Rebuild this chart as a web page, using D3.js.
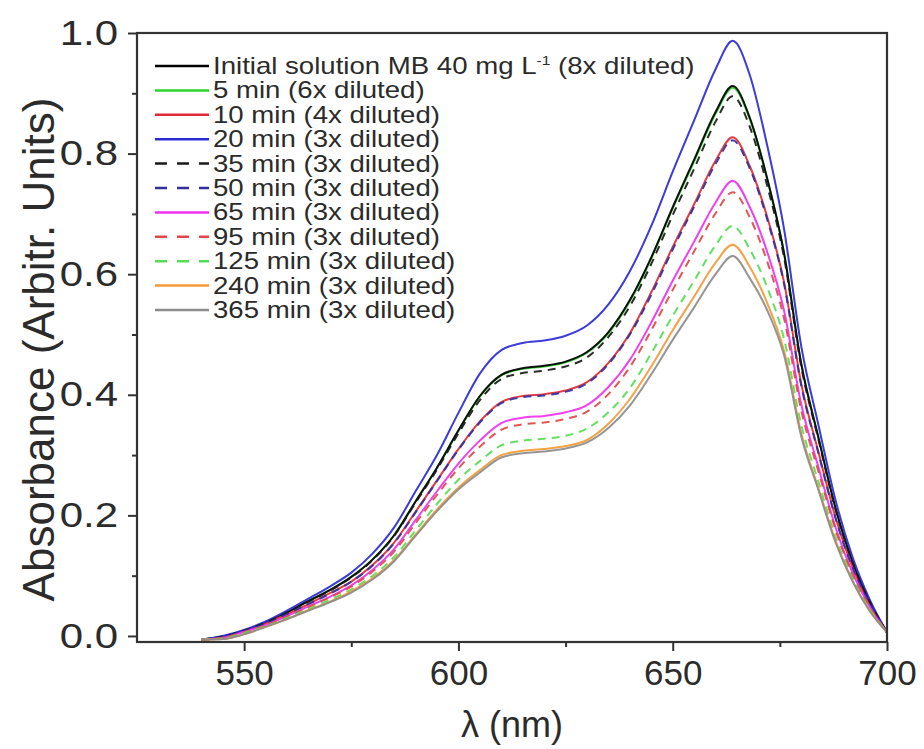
<!DOCTYPE html>
<html>
<head>
<meta charset="utf-8">
<script src="https://cdn.jsdelivr.net/npm/d3@7"></script>
<style>
  html, body { margin: 0; padding: 0; background: #fff; }
  svg { display: block; }
  text { font-family: "Liberation Sans", Arial, sans-serif; fill: #2b2b2b; }
</style>
</head>
<body>
<svg id="chart" width="924" height="749"></svg>
<script>
// ---- data ----
const wavelengths = [540,545,550,555,560,565,570,575,580,585,590,595,600,605,610,615,620,625,630,635,640,645,650,655,660,664,668,672,676,680,684,688,692,696,700];

const initial = [-0.006,-0.001,0.009,0.022,0.039,0.058,0.076,0.098,0.127,0.167,0.223,0.279,0.341,0.398,0.433,0.444,0.448,0.455,0.471,0.504,0.557,0.628,0.711,0.790,0.869,0.912,0.859,0.760,0.634,0.451,0.329,0.212,0.122,0.056,0.006];
const min5 = [-0.006,-0.001,0.009,0.022,0.039,0.058,0.076,0.098,0.127,0.167,0.223,0.279,0.340,0.397,0.432,0.443,0.447,0.454,0.470,0.502,0.555,0.626,0.709,0.787,0.866,0.909,0.857,0.759,0.634,0.451,0.329,0.212,0.122,0.056,0.006];
const min10 = [-0.006,-0.002,0.008,0.021,0.036,0.053,0.071,0.090,0.118,0.155,0.206,0.258,0.310,0.356,0.388,0.398,0.401,0.407,0.421,0.453,0.502,0.570,0.645,0.716,0.788,0.827,0.779,0.696,0.586,0.418,0.305,0.196,0.113,0.052,0.006];
const min20 = [-0.006,0.000,0.010,0.024,0.042,0.062,0.082,0.105,0.137,0.180,0.240,0.300,0.370,0.435,0.474,0.486,0.490,0.498,0.515,0.550,0.605,0.680,0.770,0.855,0.940,0.987,0.930,0.815,0.674,0.480,0.350,0.225,0.130,0.060,0.006];
const min35 = [-0.006,-0.001,0.009,0.022,0.039,0.057,0.075,0.097,0.126,0.166,0.221,0.276,0.336,0.391,0.426,0.436,0.440,0.447,0.462,0.496,0.547,0.617,0.698,0.775,0.853,0.895,0.844,0.748,0.627,0.446,0.326,0.209,0.121,0.056,0.006];
const min50 = [-0.006,-0.002,0.008,0.020,0.036,0.053,0.070,0.090,0.117,0.154,0.205,0.257,0.309,0.354,0.386,0.396,0.399,0.405,0.419,0.451,0.500,0.566,0.641,0.712,0.783,0.822,0.775,0.692,0.583,0.415,0.303,0.195,0.112,0.052,0.006];
const min65 = [-0.006,-0.003,0.007,0.018,0.033,0.049,0.065,0.084,0.110,0.144,0.192,0.240,0.286,0.324,0.353,0.362,0.365,0.371,0.383,0.413,0.458,0.520,0.589,0.654,0.719,0.755,0.711,0.638,0.539,0.384,0.280,0.180,0.104,0.048,0.006];
const min95 = [-0.006,-0.003,0.006,0.018,0.032,0.048,0.064,0.082,0.107,0.140,0.187,0.234,0.278,0.314,0.342,0.351,0.354,0.360,0.372,0.401,0.446,0.507,0.574,0.638,0.701,0.736,0.694,0.622,0.526,0.374,0.273,0.176,0.101,0.047,0.006];
const min125 = [-0.006,-0.004,0.005,0.016,0.030,0.045,0.060,0.077,0.100,0.131,0.175,0.219,0.259,0.290,0.316,0.324,0.327,0.332,0.344,0.371,0.411,0.469,0.531,0.589,0.648,0.680,0.641,0.579,0.492,0.350,0.256,0.164,0.095,0.044,0.006];
const min240 = [-0.006,-0.005,0.003,0.015,0.028,0.043,0.057,0.074,0.096,0.126,0.168,0.210,0.246,0.275,0.300,0.307,0.310,0.315,0.325,0.352,0.393,0.447,0.507,0.563,0.619,0.649,0.612,0.553,0.472,0.336,0.245,0.158,0.091,0.042,0.006];
const min365 = [-0.006,-0.005,0.003,0.015,0.028,0.042,0.056,0.072,0.094,0.124,0.166,0.207,0.243,0.271,0.296,0.303,0.306,0.311,0.321,0.345,0.382,0.434,0.491,0.545,0.600,0.630,0.593,0.541,0.465,0.331,0.242,0.155,0.090,0.041,0.006];

const seriesNames = [
  "Initial solution MB 40 mg L|-1|(8x diluted)",
  "5 min (6x diluted)",
  "10 min (4x diluted)",
  "20 min (3x diluted)",
  "35 min (3x diluted)",
  "50 min (3x diluted)",
  "65 min (3x diluted)",
  "95 min (3x diluted)",
  "125 min (3x diluted)",
  "240 min (3x diluted)",
  "365 min (3x diluted)"
];
const seriesValues = [initial, min5, min10, min20, min35, min50, min65, min95, min125, min240, min365];
const seriesColors = ["#000000","#2ed42e","#e02a35","#2a2ad8","#1a1a1a","#30309e","#ee30ee","#e04848","#55dd55","#f29a35","#8c8c8c"];
const seriesDashed = [false,false,false,false,true,true,false,true,true,false,false];

const xTicks = [550, 600, 650, 700];
const xMinorTicks = [575, 625, 675];
const yTicks = [0.0, 0.2, 0.4, 0.6, 0.8, 1.0];
const yMinorTicks = [0.1, 0.3, 0.5, 0.7, 0.9];

// ---- layout ----
const svg = d3.select("#chart");
const L = 137, R = 887, T = 33, B = 642;
const x = d3.scaleLinear().domain([525, 700]).range([L, R]);
const y = d3.scaleLinear().domain([-0.01, 1.0]).range([B, T]);

// curves (green before black so black sits on top)
const order = [1,0,2,3,4,5,6,7,8,9,10];
const line = d3.line()
  .x((d, i) => x(wavelengths[i]))
  .y(d => y(d))
  .curve(d3.curveMonotoneX);

svg.append("clipPath").attr("id","clip")
  .append("rect").attr("x", L).attr("y", T).attr("width", R - L).attr("height", B - T);

const gLines = svg.append("g").attr("clip-path","url(#clip)");
order.forEach(k => {
  gLines.append("path")
    .datum(seriesValues[k])
    .attr("d", line)
    .attr("fill","none")
    .attr("stroke", seriesColors[k])
    .attr("stroke-width", 2)
    .attr("stroke-dasharray", seriesDashed[k] ? "8,6" : null)
    .attr("opacity", 0.92);
});

// axes
const FONT = '"Liberation Sans", Arial, sans-serif';
const lineStyle = g => {
  g.select(".domain").remove();
  g.selectAll(".tick line").attr("stroke","#333").attr("stroke-width",2);
};

const gx = svg.append("g")
  .attr("transform", `translate(0,${B})`)
  .call(d3.axisBottom(x).tickValues(xTicks).tickSize(9).tickPadding(9).tickFormat(d3.format("d")))
  .call(lineStyle);
gx.selectAll(".tick text")
  .style("font-family", FONT).style("font-size","35px").attr("fill","#2b2b2b");
svg.append("g")
  .attr("transform", `translate(0,${B})`)
  .call(d3.axisBottom(x).tickValues(xMinorTicks).tickSize(5).tickFormat(""))
  .call(lineStyle);

const gy = svg.append("g")
  .attr("transform", `translate(${L},0)`)
  .call(d3.axisLeft(y).tickValues(yTicks).tickSize(9).tickPadding(9).tickFormat(d3.format(".1f")))
  .call(lineStyle);
gy.selectAll(".tick text")
  .style("font-family", FONT).style("font-size","35px").attr("fill","#2b2b2b")
  .attr("x", 0)
  .attr("transform", "translate(-19,0) scale(1.2,1)");
svg.append("g")
  .attr("transform", `translate(${L},0)`)
  .call(d3.axisLeft(y).tickValues(yMinorTicks).tickSize(5).tickFormat(""))
  .call(lineStyle);

// frame
svg.append("rect")
  .attr("x", L).attr("y", T).attr("width", R - L).attr("height", B - T)
  .attr("fill","none").attr("stroke","#333").attr("stroke-width",2.2);

// axis titles
svg.append("text")
  .attr("x", (L + R) / 2).attr("y", 737)
  .attr("text-anchor","middle")
  .style("font-size","36px")
  .text("\u03bb (nm)");
svg.append("text")
  .attr("transform", `translate(54,${(T + B) / 2 + 12}) rotate(-90)`)
  .attr("text-anchor","middle")
  .style("font-size","44px")
  .text("Absorbance (Arbitr. Units)");

// legend
const lg = svg.append("g");
seriesNames.forEach((name, i) => {
  const yy = 66 + i * 24.4;
  lg.append("line")
    .attr("x1", 155).attr("x2", 209).attr("y1", yy).attr("y2", yy)
    .attr("stroke", seriesColors[i]).attr("stroke-width", 2.5)
    .attr("stroke-dasharray", seriesDashed[i] ? "12,10" : null);
  const t = lg.append("text")
    .attr("transform", `translate(213,${yy + 8}) scale(1.2,1)`)
    .style("font-size","23px");
  const parts = name.split("|");
  if (parts.length === 3) {
    t.append("tspan").text(parts[0]);
    t.append("tspan").attr("dy", -9).style("font-size","13px").text(parts[1]);
    t.append("tspan").attr("dy", 9).text(" " + parts[2]);
  } else {
    t.text(name);
  }
});
</script>
</body>
</html>
